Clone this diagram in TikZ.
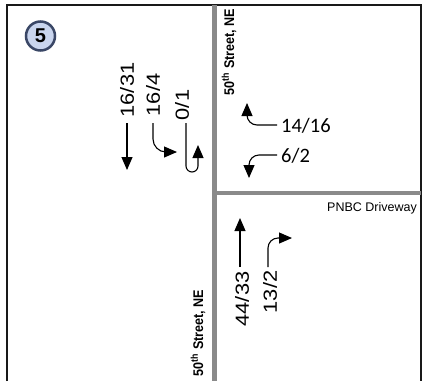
\documentclass[tikz,border=0pt]{standalone}
\usepackage{fontspec}
\setmainfont{Liberation Sans}
\newfontfamily\numfont[FakeStretch=1.15]{Liberation Sans}
\newfontfamily\calfont{Carlito}
\newfontfamily\streetfont[FakeStretch=0.9]{Liberation Sans}
\usetikzlibrary{arrows.meta}
\definecolor{roadgray}{HTML}{8A8A8A}
\definecolor{circfill}{HTML}{C9D5EE}
\definecolor{circedge}{HTML}{3A4766}
\begin{document}
\begin{tikzpicture}[x=1pt,y=-1pt,
  frame/.style={line width=2pt,draw=black!90},
  road/.style={line width=4.5pt,draw=roadgray},
  mv/.style={line width=1.1pt,-{Triangle[length=13pt,width=11pt]},rounded corners=10pt},
  vol/.style={font=\numfont\fontsize{19}{19}\selectfont,inner sep=0pt,rotate=90},
  volh/.style={font=\calfont\fontsize{20.5}{20.5}\selectfont,inner sep=0pt,anchor=west},
  street/.style={font=\streetfont\bfseries\fontsize{14}{14}\selectfont,inner sep=0pt,rotate=90}]
\useasboundingbox (0,0) rectangle (427,381);
% frame
\draw[frame] (7,381) -- (7,5) -- (421,5) -- (421,381);
% roads
\draw[road] (214.5,5) -- (214.5,381);
\draw[road] (214.5,193) -- (421,193);
% circle
\node (num) [circle,draw=circedge,line width=2.5pt,fill=circfill,minimum size=29pt,inner sep=0pt,
  font=\bfseries\fontsize{20}{20}\selectfont] at (40.5,36) {5};
% street labels
\node (st1) [street] at (229,52) {50\textsuperscript{th} Street, NE};
\node (st2) [street] at (198,333) {50\textsuperscript{th} Street, NE};
\node (drv) [font=\fontsize{12.5}{12.5}\selectfont,inner sep=0pt,anchor=east] at (417,208) {PNBC Driveway};
% volumes
\node (v1) [vol] at (127,90) {16/31};
\node (v2) [vol] at (153,95) {16/4};
\node (v3) [vol] at (182,105) {0/1};
\node (v4) [volh] at (281,125.5) {14/16};
\node (v5) [volh] at (281,156) {6/2};
\node (v6) [vol] at (242,299) {44/33};
\node (v7) [vol] at (270,292) {13/2};
% movement arrows
\coordinate (a1s) at (127,123); \coordinate (a1e) at (127,170);
\draw[mv] (a1s) -- (a1e);
\coordinate (a2s) at (153,123); \coordinate (a2c) at (153,152); \coordinate (a2e) at (177,152);
\draw[mv,rounded corners=13pt] (a2s) -- (a2c) -- (a2e);
\coordinate (a3s) at (186,123); \coordinate (a3c) at (186,172); \coordinate (a3d) at (198,172); \coordinate (a3e) at (198,145);
\draw[mv,rounded corners=6pt] (a3s) -- (a3c) -- (a3d) -- (a3e);
\coordinate (a4s) at (277,125); \coordinate (a4c) at (247,125); \coordinate (a4e) at (247,103);
\draw[mv] (a4s) -- (a4c) -- (a4e);
\coordinate (a5s) at (277,155); \coordinate (a5c) at (249,155); \coordinate (a5e) at (249,178);
\draw[mv] (a5s) -- (a5c) -- (a5e);
\coordinate (a6s) at (240,267); \coordinate (a6e) at (240,218);
\draw[mv] (a6s) -- (a6e);
\coordinate (a7s) at (268,267); \coordinate (a7c) at (268,238); \coordinate (a7e) at (292,238);
\draw[mv] (a7s) -- (a7c) -- (a7e);
\end{tikzpicture}
\end{document}
